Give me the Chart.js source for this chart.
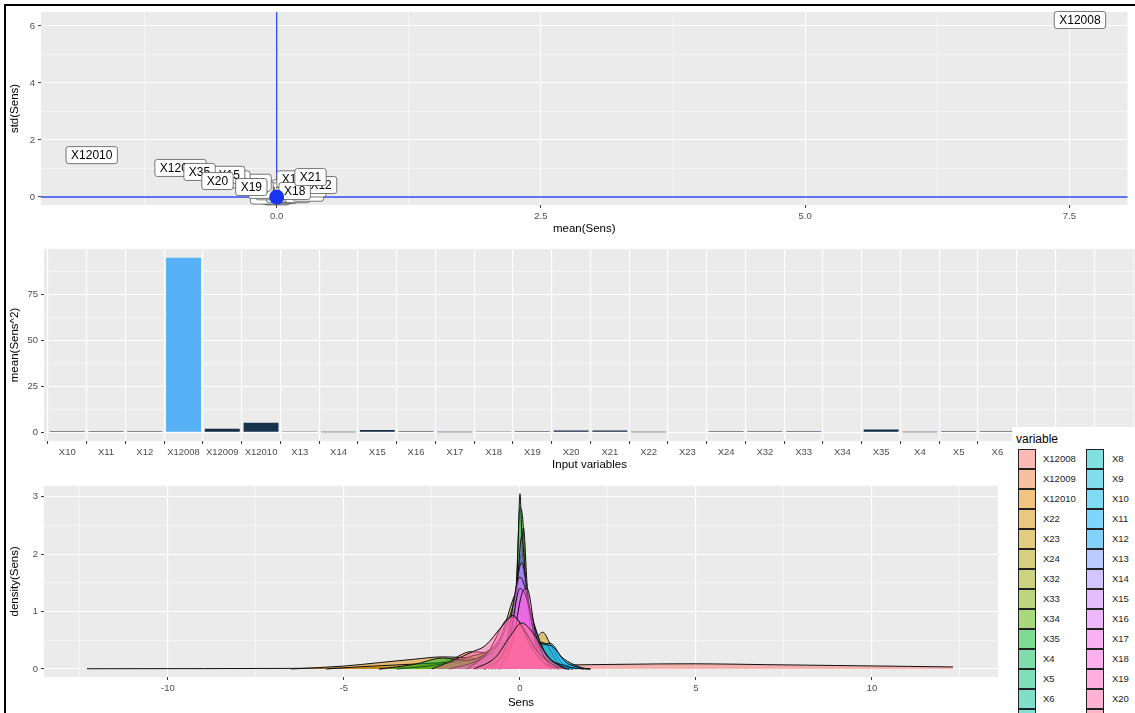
<!DOCTYPE html>
<html>
<head>
<meta charset="utf-8">
<script src="https://cdn.jsdelivr.net/npm/chart.js@4.4.0/dist/chart.umd.min.js"></script>
<style>
  html, body { margin: 0; padding: 0; background: #fff; overflow: hidden; }
  body { width: 1135px; height: 713px; position: relative; font-family: "Liberation Sans", Arial, sans-serif; }
  .panel { position: absolute; left: 0; width: 1135px; }
  #frameL { position: absolute; left: 4px; top: 4px; width: 2px; height: 709px; background: #000; }
  #frameT { position: absolute; left: 4px; top: 4px; width: 1131px; height: 2px; background: #000; }
  #legend { position: absolute; left: 1012px; top: 427px; width: 123px; height: 286px; background: #fff; overflow: hidden; }
  #legend .ttl { position: absolute; left: 4px; top: 5px; font-size: 12px; color: #000; }
  #legend .key { position: absolute; width: 16px; height: 18px; border: 1px solid #222; }
  #legend .lab { position: absolute; font-size: 9.5px; color: #1a1a1a; line-height: 20px; }
</style>
</head>
<body>
<div class="panel" style="top:0;height:240px"><canvas id="scatter"></canvas></div>
<div class="panel" style="top:237px;height:240px"><canvas id="bars"></canvas></div>
<div class="panel" style="top:477px;height:236px"><canvas id="density"></canvas></div>
<div id="legend"></div>
<div id="frameL"></div>
<div id="frameT"></div>
<script>
const FONT = '"Liberation Sans", Arial, sans-serif';

// ---- panel 1: mean(Sens) vs std(Sens), labels in drawing order (last on top)
const labelNames = ['X4','X17','X22','X14','X10','X34','X8','X13','X23','X6','X11','X5','X7','X9','X24','X16','X12','X32','X33','X15','X12009','X35','X20','X19','X18','X21','X12010','X12008'];
const labelMean = [0.0,0.0,0.05,-0.1,0.05,0.1,0.2,0.1,-0.05,-0.15,0.3,0.2,0.35,0.3,0.25,0.15,0.42,-0.2,-0.4,-0.45,-0.91,-0.73,-0.56,-0.24,0.17,0.32,-1.75,7.6];
const labelStd = [0.02,0.05,0.08,0.05,0.1,0.12,0.1,0.3,0.2,0.25,0.15,0.3,0.3,0.5,0.55,0.62,0.42,0.5,0.62,0.78,1.02,0.88,0.56,0.35,0.21,0.7,1.47,6.21];
const refX = 0, refY = 0;
const scatterXMajor = [0, 2.5, 5, 7.5];
const scatterXMinor = [-1.25, 1.25, 3.75, 6.25];
const scatterYMajor = [0, 2, 4, 6];
const scatterYMinor = [1, 3, 5];

// ---- panel 2: mean(Sens^2) per input
const barVars = ['X10','X11','X12','X12008','X12009','X12010','X13','X14','X15','X16','X17','X18','X19','X20','X21','X22','X23','X24','X32','X33','X34','X35','X4','X5','X6','X7','X8','X9'];
const barValues = [0.6,0.6,0.6,95,1.9,5.2,0.1,0.05,1.2,0.6,0.05,0.1,0.6,0.9,0.9,0.05,0.3,0.6,0.6,0.6,0.3,1.5,0.05,0.6,0.6,0.5,0.5,0.5];
const barYMajor = [0, 25, 50, 75];
const barYMinor = [12.5, 37.5, 62.5, 87.5];

// ---- panel 3: density(Sens) per variable, [x, density] pairs
const densVars = ['X12008','X12009','X12010','X22','X23','X24','X32','X33','X34','X35','X4','X5','X6','X7','X8','X9','X10','X11','X12','X13','X14','X15','X16','X17','X18','X19','X20','X21'];
const dX12008 = [[-12.3,0.004],[-9,0.006],[-6.5,0.01],[-4,0.02],[-2,0.035],[0,0.055],[2,0.075],[4,0.088],[5,0.09],[7,0.075],[9,0.06],[11,0.045],[12.3,0.035]];
const dX12009 = [[-4,0],[-3,0.04],[-2,0.15],[-1.4,0.3],[-1,0.28],[-0.5,0.2],[0,0.12],[1,0.03],[2,0]];
const dX12010 = [[-6.5,0],[-5,0.05],[-4,0.11],[-3,0.17],[-2.2,0.21],[-1.2,0.18],[0,0.1],[1,0.03],[2,0]];
const dX22 = [[-5.5,0],[-4.5,0.04],[-3.5,0.07],[-2.5,0.1],[-1.5,0.14],[-0.7,0.3],[0,0.5],[0.5,0.3],[1,0.08],[2,0]];
const dX23 = [[-1,0],[-0.4,0.15],[0,0.4],[0.4,0.5],[0.65,0.64],[0.85,0.45],[1.2,0.1],[1.6,0]];
const dX24 = [[-1.2,0],[-0.5,0.3],[-0.1,1.1],[0.1,1.2],[0.4,0.5],[0.7,0.45],[1.1,0.1],[1.5,0]];
const dX32 = [[-3.5,0],[-2.5,0.06],[-1.5,0.2],[-0.6,0.5],[0,1.4],[0.3,0.6],[0.8,0.1],[1.5,0]];
const dX33 = [[-0.8,0],[-0.3,0.3],[-0.1,1.5],[0,2.8],[0.08,2.6],[0.2,1.0],[0.5,0.15],[0.9,0]];
const dX34 = [[-0.5,0],[-0.2,0.3],[0,1.6],[0.1,2.46],[0.2,1.5],[0.35,0.4],[0.7,0]];
const dX35 = [[-4,0],[-3,0.08],[-2.2,0.19],[-1.5,0.15],[-1,0.25],[-0.5,0.45],[0,0.35],[0.5,0.15],[1.5,0]];
const dX4 = [[-0.6,0],[-0.3,0.1],[-0.15,0.6],[-0.06,2.0],[0,3.05],[0.06,2.2],[0.15,0.8],[0.3,0.15],[0.6,0]];
const dX5 = [[-1,0],[-0.4,0.3],[0,1.3],[0.2,1.0],[0.5,0.35],[1,0.05],[1.4,0]];
const dX6 = [[-1.2,0],[-0.5,0.25],[-0.1,0.9],[0.15,1.1],[0.5,0.4],[1,0.08],[1.5,0]];
const dX7 = [[-0.9,0],[-0.3,0.4],[0,1.7],[0.2,1.0],[0.5,0.2],[1,0]];
const dX8 = [[-1,0],[-0.3,0.35],[0.05,1.5],[0.3,0.8],[0.7,0.3],[1.2,0]];
const dX9 = [[-0.8,0],[-0.2,0.6],[0.05,2.0],[0.25,0.9],[0.6,0.3],[1,0.05],[1.4,0]];
const dX10 = [[-1,0],[-0.3,0.3],[0.1,1.0],[0.5,0.4],[0.85,0.45],[1.2,0.2],[1.8,0]];
const dX11 = [[-0.8,0],[-0.2,0.5],[0.1,1.3],[0.5,0.5],[0.9,0.4],[1.3,0.12],[1.9,0]];
const dX12 = [[-1,0],[-0.3,0.4],[0.05,1.6],[0.3,1.0],[0.7,0.3],[1.3,0.05],[1.8,0]];
const dX13 = [[-0.6,0],[-0.2,0.6],[0,1.9],[0.15,1.5],[0.4,0.3],[0.8,0]];
const dX14 = [[-0.7,0],[-0.3,0.3],[-0.1,1.2],[0.05,2.3],[0.2,1.2],[0.4,0.3],[0.8,0]];
const dX15 = [[-2,0],[-1.2,0.15],[-0.6,0.45],[-0.2,1.1],[0.05,1.85],[0.3,1.0],[0.7,0.3],[1.3,0]];
const dX16 = [[-1,0],[-0.4,0.4],[0,1.6],[0.15,1.4],[0.45,0.5],[0.9,0.1],[1.3,0]];
const dX17 = [[-0.8,0],[-0.3,0.5],[0,1.4],[0.2,1.2],[0.5,0.3],[0.9,0]];
const dX18 = [[-0.6,0],[-0.2,0.5],[0.05,1.3],[0.2,1.4],[0.45,0.6],[0.8,0.1],[1.1,0]];
const dX19 = [[-1.5,0],[-0.9,0.3],[-0.4,0.85],[-0.2,0.9],[0,0.8],[0.3,0.4],[0.7,0.1],[1.1,0]];
const dX20 = [[-2.5,0],[-1.7,0.2],[-1.35,0.3],[-1,0.4],[-0.5,0.75],[-0.2,0.93],[0.1,0.7],[0.5,0.3],[1,0.05],[1.4,0]];
const dX21 = [[-1.3,0],[-0.7,0.2],[-0.3,0.55],[0.05,0.8],[0.4,0.6],[0.8,0.2],[1.3,0]];
const densCurves = [dX12008,dX12009,dX12010,dX22,dX23,dX24,dX32,dX33,dX34,dX35,dX4,dX5,dX6,dX7,dX8,dX9,dX10,dX11,dX12,dX13,dX14,dX15,dX16,dX17,dX18,dX19,dX20,dX21];
const densXMajor = [-10, -5, 0, 5, 10];
const densXMinor = [-12.5, -7.5, -2.5, 2.5, 7.5, 12.5];
const densYMajor = [0, 1, 2, 3];
const densYMinor = [0.5, 1.5, 2.5];

// ggplot hue palette (hcl, c = 100, l = 65)
function hcl(h, c, l) {
  const hr = h * Math.PI / 180;
  const U = c * Math.cos(hr), V = c * Math.sin(hr);
  const Xn = 95.047, Yn = 100, Zn = 108.883;
  const un = 4 * Xn / (Xn + 15 * Yn + 3 * Zn), vn = 9 * Yn / (Xn + 15 * Yn + 3 * Zn);
  const Y = l > 8 ? Yn * Math.pow((l + 16) / 116, 3) : Yn * l / 903.3;
  const u = U / (13 * l) + un, v = V / (13 * l) + vn;
  const X = 9 * Y * u / (4 * v);
  const Z = (9 * Y / v - X - 15 * Y) / 3;
  const lin = [
    (3.240479 * X - 1.537150 * Y - 0.498535 * Z) / 100,
    (-0.969256 * X + 1.875992 * Y + 0.041556 * Z) / 100,
    (0.055648 * X - 0.204043 * Y + 1.057311 * Z) / 100
  ];
  return lin.map(c => {
    const g = c <= 0.0031308 ? 12.92 * c : 1.055 * Math.pow(c, 1 / 2.4) - 0.055;
    return Math.round(Math.min(1, Math.max(0, g)) * 255);
  });
}
const hues = densVars.map((_, i) => hcl(15 + 360 / densVars.length * i, 100, 65));
const fillOf = rgb => `rgba(${rgb[0]},${rgb[1]},${rgb[2]},0.5)`;

function gradient(v, lo, hi) {
  const a = [0x13, 0x2B, 0x43], b = [0x56, 0xB1, 0xF7];
  const t = (v - lo) / (hi - lo);
  return `rgb(${a.map((c, i) => Math.round(c + (b[i] - c) * t)).join(',')})`;
}

const panelBg = {
  id: 'panelBg',
  beforeDraw(chart) {
    const {ctx, chartArea: a} = chart;
    ctx.save();
    ctx.fillStyle = '#EBEBEB';
    ctx.fillRect(a.left, a.top, a.width, a.height);
    ctx.restore();
  }
};

function ggAxis(min, max, major, minor, fmt, title, size, titlePad) {
  const isMajor = v => major.some(m => Math.abs(m - v) < 1e-9);
  return {
    type: 'linear', min, max,
    afterBuildTicks: s => { s.ticks = major.concat(minor).sort((a, b) => a - b).map(v => ({value: v})); },
    afterFit: s => { if (s.isHorizontal()) s.height = size; else s.width = size; },
    ticks: {
      autoSkip: false, maxRotation: 0, padding: 3, color: '#4D4D4D',
      font: {size: 9.5, family: FONT},
      callback: v => isMajor(v) ? fmt(v) : ''
    },
    grid: {
      color: '#FFFFFF',
      lineWidth: c => (c.tick && isMajor(c.tick.value)) ? 1.1 : 0.5,
      tickLength: 3, tickWidth: 1,
      tickColor: c => (c.tick && isMajor(c.tick.value)) ? '#333333' : 'rgba(0,0,0,0)'
    },
    border: {display: false},
    title: {display: true, text: title, color: '#000', font: {size: 11.5, family: FONT}, padding: titlePad}
  };
}

const common = {
  responsive: true, maintainAspectRatio: false, animation: false,
  plugins: {legend: {display: false}, tooltip: {enabled: false}}
};

// ---- panel 1
const refLines = {
  id: 'refLines',
  beforeDatasetsDraw(chart) {
    const {ctx, chartArea: a, scales: {x, y}} = chart;
    const px = x.getPixelForValue(refX), py = y.getPixelForValue(refY);
    ctx.save();
    ctx.strokeStyle = '#2B4BF2';
    ctx.lineWidth = 1.3;
    ctx.beginPath();
    ctx.moveTo(px, a.top); ctx.lineTo(px, a.bottom);
    ctx.moveTo(a.left, py); ctx.lineTo(a.right, py);
    ctx.stroke();
    ctx.restore();
  }
};
const sensLabels = {
  id: 'sensLabels',
  beforeDatasetDraw(chart, args) {
    if (args.index !== 0) return;
    const {ctx, scales: {x, y}} = chart;
    ctx.save();
    ctx.font = '12px ' + FONT;
    ctx.textAlign = 'center';
    ctx.textBaseline = 'middle';
    labelNames.forEach((name, i) => {
      const px = x.getPixelForValue(labelMean[i]), py = y.getPixelForValue(labelStd[i]);
      const w = ctx.measureText(name).width + 10, h = 17;
      ctx.beginPath();
      ctx.roundRect(px - w / 2, py - h / 2, w, h, 2.5);
      ctx.fillStyle = '#FFFFFF';
      ctx.fill();
      ctx.strokeStyle = '#555555';
      ctx.lineWidth = 0.8;
      ctx.stroke();
      ctx.fillStyle = '#000000';
      ctx.fillText(name, px, py + 0.5);
    });
    ctx.restore();
  }
};

new Chart(document.getElementById('scatter'), {
  type: 'scatter',
  data: {
    datasets: [
      {data: [{x: refX, y: refY}], pointRadius: 7.5, backgroundColor: '#1A35F0', borderWidth: 0},
      {data: labelNames.map((n, i) => ({x: labelMean[i], y: labelStd[i]})), pointRadius: 1.5, backgroundColor: '#000', borderWidth: 0}
    ]
  },
  options: Object.assign({}, common, {
    layout: {padding: {top: 12, right: 2, left: 0, bottom: 0}},
    scales: {
      x: ggAxis(-2.23, 8.05, scatterXMajor, scatterXMinor, v => v.toFixed(1), 'mean(Sens)', 35, {top: 0, bottom: 4}),
      y: ggAxis(-0.28, 6.49, scatterYMajor, scatterYMinor, v => String(v), 'std(Sens)', 41, {top: 8, bottom: 0})
    }
  }),
  plugins: [panelBg, refLines, sensLabels]
});

// ---- panel 2
const barLo = Math.min(...barValues), barHi = Math.max(...barValues);
const barX = ggAxis(-0.6, 27.55, barVars.map((_, i) => i), [], v => barVars[v], 'Input variables', 36, {top: 0, bottom: 5});
new Chart(document.getElementById('bars'), {
  type: 'bar',
  data: {
    datasets: [{
      data: barValues.map((v, i) => ({x: i, y: v})),
      backgroundColor: barValues.map(v => gradient(v, barLo, barHi)),
      borderWidth: 0, categoryPercentage: 0.9, barPercentage: 1
    }]
  },
  options: Object.assign({}, common, {
    layout: {padding: {top: 12, right: 0, left: 0, bottom: 0}},
    scales: {
      x: Object.assign(barX, {offset: false}),
      y: ggAxis(-4.75, 99.75, barYMajor, barYMinor, v => String(v), 'mean(Sens^2)', 44, {top: 8, bottom: 0})
    }
  }),
  plugins: [panelBg]
});

// ---- panel 3
new Chart(document.getElementById('density'), {
  type: 'line',
  data: {
    datasets: densVars.map((name, i) => ({
      label: name,
      data: densCurves[i].map(p => ({x: p[0], y: p[1]})),
      order: densVars.length - i,
      fill: 'origin',
      backgroundColor: fillOf(hues[i]),
      borderColor: '#111111',
      borderWidth: 1,
      pointRadius: 0,
      cubicInterpolationMode: 'monotone'
    }))
  },
  options: Object.assign({}, common, {
    layout: {padding: {top: 8, right: 137, left: 0, bottom: 0}},
    scales: {
      x: ggAxis(-13.52, 13.58, densXMajor, densXMinor, v => String(v), 'Sens', 36, {top: 0, bottom: 3}),
      y: ggAxis(-0.14, 3.19, densYMajor, densYMinor, v => String(v), 'density(Sens)', 44, {top: 8, bottom: 0})
    }
  }),
  plugins: [panelBg]
});

// ---- legend for the density fills
const legend = document.getElementById('legend');
legend.innerHTML = '<div class="ttl">variable</div>';
densVars.forEach((name, i) => {
  const col = Math.floor(i / 14), row = i % 14;
  const top = 22 + row * 20;
  const key = document.createElement('div');
  key.className = 'key';
  key.style.left = (6 + col * 68) + 'px';
  key.style.top = top + 'px';
  key.style.background = fillOf(hues[i]);
  legend.appendChild(key);
  const lab = document.createElement('div');
  lab.className = 'lab';
  lab.style.left = (31 + col * 69) + 'px';
  lab.style.top = top + 'px';
  lab.textContent = name;
  legend.appendChild(lab);
});
</script>
</body>
</html>
